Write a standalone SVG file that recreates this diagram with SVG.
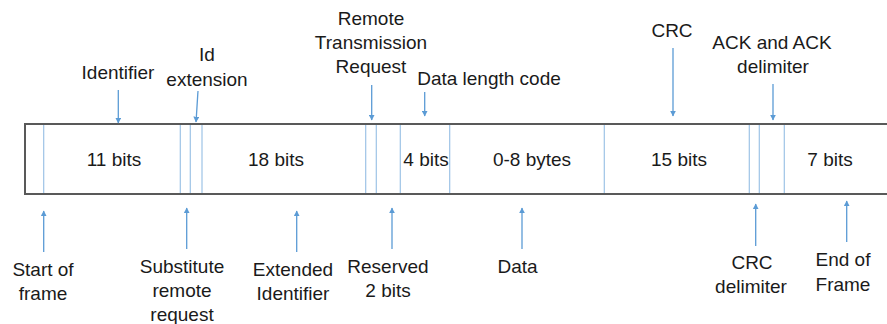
<svg xmlns="http://www.w3.org/2000/svg" width="887" height="324" viewBox="0 0 887 324">
<defs>
<style>
text{font-family:"Liberation Sans",Arial,sans-serif;font-size:19px;fill:#1a1a1a;text-anchor:middle}
.div{stroke:#9DC3E6;stroke-width:1.2;fill:none}
.frame{fill:#fff;stroke:#595959;stroke-width:2}
.arr{stroke:#5B9BD5;stroke-width:1.3;fill:none;marker-end:url(#ah)}
</style>
<marker id="ah" viewBox="0 0 10 10" refX="9" refY="5" markerWidth="6" markerHeight="6" markerUnits="userSpaceOnUse" orient="auto">
<path d="M0,0 L10,5 L0,10 z" fill="#5B9BD5"/>
</marker>
</defs>
<rect width="887" height="324" fill="#fff"/>
<g id="frame">
<rect class="frame" x="25" y="124" width="870" height="70"/>
<line class="div" x1="43.7" y1="125" x2="43.7" y2="193"/>
<line class="div" x1="180.3" y1="125" x2="180.3" y2="193"/>
<line class="div" x1="190.3" y1="125" x2="190.3" y2="193"/>
<line class="div" x1="202" y1="125" x2="202" y2="193"/>
<line class="div" x1="365.7" y1="125" x2="365.7" y2="193"/>
<line class="div" x1="376.3" y1="125" x2="376.3" y2="193"/>
<line class="div" x1="400.3" y1="125" x2="400.3" y2="193"/>
<line class="div" x1="449.7" y1="125" x2="449.7" y2="193"/>
<line class="div" x1="604.3" y1="125" x2="604.3" y2="193"/>
<line class="div" x1="749.3" y1="125" x2="749.3" y2="193"/>
<line class="div" x1="759.3" y1="125" x2="759.3" y2="193"/>
<line class="div" x1="784.3" y1="125" x2="784.3" y2="193"/>
</g>
<g id="fields">
<text x="114" y="166">11 bits</text>
<text x="276" y="166">18 bits</text>
<text x="426" y="166">4 bits</text>
<text x="532" y="166">0-8 bytes</text>
<text x="679" y="166">15 bits</text>
<text x="830" y="166">7 bits</text>
</g>
<g id="connectors">
<line class="arr" x1="118.3" y1="90" x2="118.3" y2="123"/>
<line class="arr" x1="198" y1="91" x2="196" y2="122"/>
<line class="arr" x1="371.7" y1="85" x2="371.7" y2="120"/>
<line class="arr" x1="424.7" y1="92" x2="424.7" y2="116"/>
<line class="arr" x1="673" y1="48" x2="673" y2="116"/>
<line class="arr" x1="773" y1="84" x2="773" y2="120"/>
<line class="arr" x1="43.7" y1="252" x2="43.7" y2="211"/>
<line class="arr" x1="186.7" y1="249" x2="186.7" y2="208"/>
<line class="arr" x1="296.7" y1="252" x2="296.7" y2="211"/>
<line class="arr" x1="392" y1="249" x2="392" y2="208"/>
<line class="arr" x1="522" y1="249" x2="522" y2="208"/>
<line class="arr" x1="755.7" y1="246" x2="755.7" y2="204"/>
<line class="arr" x1="846.7" y1="242" x2="846.7" y2="201"/>
</g>
<g id="identifier"><text x="118" y="79">Identifier</text></g>
<g id="id-extension"><text x="207" y="61">Id</text><text x="207" y="86">extension</text></g>
<g id="rtr"><text x="371" y="25">Remote</text><text x="371" y="49">Transmission</text><text x="371" y="73">Request</text></g>
<g id="dlc"><text x="489" y="85">Data length code</text></g>
<g id="crc"><text x="672" y="37">CRC</text></g>
<g id="ack"><text x="772" y="49">ACK and ACK</text><text x="773" y="73">delimiter</text></g>
<g id="sof"><text x="43" y="276">Start of</text><text x="43" y="300">frame</text></g>
<g id="srr"><text x="182" y="273">Substitute</text><text x="182" y="297">remote</text><text x="182" y="321">request</text></g>
<g id="ext-id"><text x="293" y="276">Extended</text><text x="293" y="300">Identifier</text></g>
<g id="reserved"><text x="388" y="273">Reserved</text><text x="388" y="297">2 bits</text></g>
<g id="data"><text x="517.5" y="273">Data</text></g>
<g id="crc-delim"><text x="752" y="269">CRC</text><text x="751" y="293">delimiter</text></g>
<g id="eof"><text x="843" y="266">End of</text><text x="843" y="291">Frame</text></g>
</svg>
